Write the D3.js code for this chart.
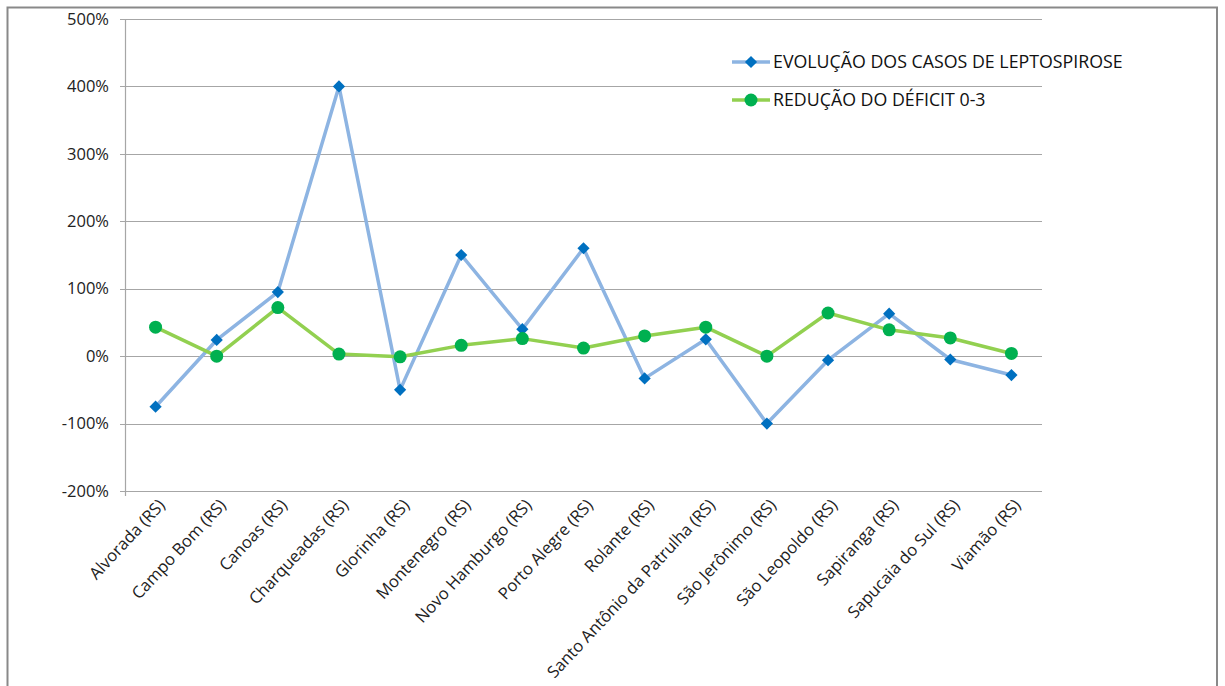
<!DOCTYPE html>
<html><head><meta charset="utf-8">
<script src="https://cdn.jsdelivr.net/npm/d3@7"></script>
<style>body{margin:0;background:#fff;}svg{display:block;font-family:"Open Sans",sans-serif;}</style>
</head><body><svg id="c" width="1225" height="686"></svg>
<script>
const categories = ["Alvorada (RS)","Campo Bom (RS)","Canoas (RS)","Charqueadas (RS)","Glorinha (RS)","Montenegro (RS)","Novo Hamburgo (RS)","Porto Alegre (RS)","Rolante (RS)","Santo Antônio da Patrulha (RS)","São Jerônimo (RS)","São Leopoldo (RS)","Sapiranga (RS)","Sapucaia do Sul (RS)","Viamão (RS)"];
const leptospirose = [-0.75,0.24,0.95,4.00,-0.50,1.50,0.40,1.60,-0.33,0.25,-1.00,-0.06,0.63,-0.05,-0.28];
const deficit = [0.43,0.00,0.72,0.03,-0.01,0.16,0.26,0.12,0.30,0.43,0.00,0.64,0.39,0.27,0.04];
const seriesNames = ["EVOLUÇÃO DOS CASOS DE LEPTOSPIROSE","REDUÇÃO DO DÉFICIT 0-3"];
const yTicks = [-2,-1,0,1,2,3,4,5];

const svg = d3.select("#c");
const L=125, R=1042, T=19, B=491;
const x = d3.scaleBand().domain(categories).range([L,R]);
const y = d3.scaleLinear().domain([-2,5]).range([B,T]);
const cx = d => x(d)+x.bandwidth()/2;

// outer frame
svg.append("rect").attr("x",7.5).attr("y",7.5).attr("width",1209.5).attr("height",700)
  .attr("fill","none").attr("stroke","#898989").attr("stroke-width",2);

// gridlines
svg.append("g").selectAll("line").data(yTicks).join("line")
  .attr("x1",L-5).attr("x2",R).attr("y1",d=>Math.round(y(d))+0.5).attr("y2",d=>Math.round(y(d))+0.5)
  .attr("stroke","#a6a6a6").attr("stroke-width",1.2);
svg.append("line").attr("x1",L+0.5).attr("x2",L+0.5).attr("y1",T).attr("y2",B+5)
  .attr("stroke","#a6a6a6").attr("stroke-width",1.2);

// y labels
const fmt = d => d3.format(".0%")(d).replace("\u2212","-");
svg.append("g").selectAll("text").data(yTicks).join("text")
  .attr("x",109).attr("y",d=>y(d)).attr("dy","0.35em").attr("text-anchor","end")
  .attr("font-size",16.5).attr("fill","#222").text(d=>fmt(d));

// x labels
svg.append("g").selectAll("text").data(categories).join("text")
  .attr("transform",d=>`translate(${cx(d)+6},${B+11}) rotate(-47)`)
  .attr("text-anchor","end").attr("dy","0.35em")
  .attr("font-size",16.6).attr("fill","#222").text(d=>d);

const line = d3.line().x((d,i)=>cx(categories[i])).y(d=>y(d));
svg.append("path").datum(leptospirose).attr("d",line).attr("fill","none")
  .attr("stroke","#8db4e2").attr("stroke-width",3.5).attr("stroke-linejoin","round");
svg.append("path").datum(deficit).attr("d",line).attr("fill","none")
  .attr("stroke","#92d050").attr("stroke-width",3.5).attr("stroke-linejoin","round");
svg.append("g").selectAll("path").data(leptospirose).join("path")
  .attr("d",d3.symbol().type(d3.symbolDiamond2).size(95))
  .attr("transform",(d,i)=>`translate(${cx(categories[i])},${y(d)})`)
  .attr("fill","#0070c0");
svg.append("g").selectAll("circle").data(deficit).join("circle")
  .attr("cx",(d,i)=>cx(categories[i])).attr("cy",d=>y(d)).attr("r",6.5).attr("fill","#00b050");

// legend
const lg = svg.append("g");
const ly = [62,100];
lg.append("line").attr("x1",732).attr("x2",770).attr("y1",ly[0]).attr("y2",ly[0]).attr("stroke","#8db4e2").attr("stroke-width",3.5);
lg.append("path").attr("d",d3.symbol().type(d3.symbolDiamond2).size(95)).attr("transform",`translate(751,${ly[0]})`).attr("fill","#0070c0");
lg.append("line").attr("x1",732).attr("x2",770).attr("y1",ly[1]).attr("y2",ly[1]).attr("stroke","#92d050").attr("stroke-width",3.5);
lg.append("circle").attr("cx",751).attr("cy",ly[1]).attr("r",6.5).attr("fill","#00b050");
lg.selectAll("text").data(seriesNames).join("text")
  .attr("x",773).attr("y",(d,i)=>ly[i]).attr("dy","0.35em").attr("font-size",17.8).attr("fill","#111").text(d=>d);
</script></body></html>
